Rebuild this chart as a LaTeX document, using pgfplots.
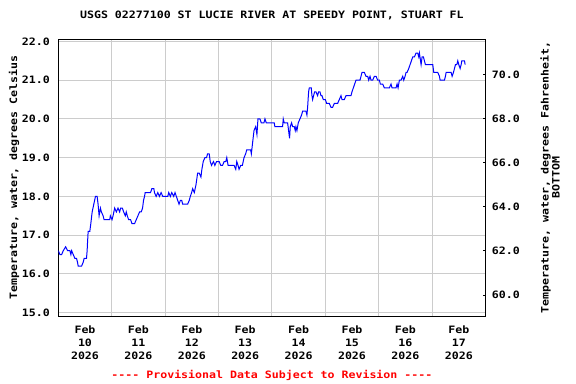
\documentclass[border=0pt]{standalone}
\usepackage{fontspec}
\setmainfont{DejaVu Sans Mono}[FakeStretch=1.14, Ligatures=TeXOff]
\usepackage{pgfplots}
\pgfplotsset{compat=1.18}
\usepackage{pgfplotstable}
\definecolor{gridgray}{RGB}{204,204,204}
\definecolor{usgsblue}{RGB}{0,0,255}
\definecolor{usgsred}{RGB}{255,0,0}
\pgfplotstableread{
day C
0.000 16.6
0.031 16.5
0.062 16.5
0.093 16.6
0.137 16.7
0.174 16.6
0.217 16.6
0.236 16.5
0.250 16.6
0.280 16.5
0.311 16.4
0.342 16.4
0.360 16.3
0.373 16.2
0.435 16.2
0.466 16.3
0.484 16.4
0.528 16.4
0.540 16.6
0.547 16.8
0.559 17.1
0.590 17.1
0.609 17.3
0.634 17.6
0.665 17.8
0.696 18.0
0.727 18.0
0.745 17.8
0.764 17.5
0.789 17.7
0.807 17.6
0.839 17.5
0.857 17.4
0.963 17.4
0.975 17.5
1.006 17.4
1.025 17.5
1.056 17.7
1.087 17.6
1.118 17.7
1.149 17.6
1.168 17.7
1.199 17.7
1.224 17.6
1.255 17.5
1.273 17.6
1.292 17.5
1.317 17.4
1.354 17.4
1.379 17.3
1.429 17.3
1.460 17.4
1.491 17.5
1.522 17.6
1.553 17.6
1.578 17.7
1.596 17.9
1.615 18.0
1.627 18.1
1.727 18.1
1.752 18.2
1.789 18.2
1.801 18.1
1.832 18.0
1.863 18.1
1.894 18.0
1.925 18.1
1.957 18.0
2.050 18.0
2.068 18.1
2.099 18.0
2.124 18.1
2.161 18.0
2.186 18.1
2.211 18.0
2.236 17.9
2.261 17.8
2.286 17.9
2.311 17.9
2.329 17.8
2.422 17.8
2.453 17.9
2.472 18.0
2.497 18.1
2.516 18.2
2.547 18.1
2.578 18.3
2.609 18.6
2.640 18.6
2.671 18.5
2.689 18.7
2.714 18.9
2.745 19.0
2.776 19.0
2.795 19.1
2.826 19.1
2.845 18.9
2.870 18.8
2.907 18.9
2.932 18.8
2.963 18.9
3.012 18.9
3.043 18.8
3.075 18.8
3.106 18.9
3.137 18.9
3.155 19.0
3.180 18.8
3.261 18.8
3.292 18.8
3.323 18.7
3.342 18.9
3.366 18.8
3.385 18.7
3.416 18.8
3.447 18.8
3.478 19.0
3.509 19.1
3.528 19.2
3.602 19.2
3.615 19.1
3.640 19.4
3.665 19.7
3.696 19.8
3.720 19.6
3.739 20.0
3.776 20.0
3.801 19.9
3.851 19.9
3.870 20.0
3.894 19.9
4.006 19.9
4.044 19.9
4.056 19.8
4.200 19.8
4.213 20.0
4.231 19.9
4.294 19.9
4.3125 19.7
4.331 19.5
4.344 19.8
4.369 19.9
4.388 19.8
4.419 19.8
4.4375 19.7
4.450 19.8
4.469 19.7
4.494 19.9
4.525 20.0
4.556 20.1
4.575 20.2
4.606 20.2
4.6375 20.2
4.656 20.1
4.669 20.3
4.6875 20.7
4.700 20.8
4.7375 20.8
4.750 20.6
4.7625 20.5
4.781 20.6
4.800 20.7
4.825 20.7
4.856 20.6
4.875 20.7
4.900 20.7
4.919 20.6
4.9375 20.6
4.9625 20.5
5.000 20.5
5.025 20.4
5.075 20.4
5.106 20.3
5.1375 20.3
5.169 20.4
5.200 20.4
5.231 20.4
5.2625 20.5
5.294 20.6
5.3125 20.5
5.356 20.5
5.3875 20.6
5.481 20.6
5.500 20.7
5.525 20.8
5.550 20.9
5.575 21.0
5.650 21.0
5.669 21.1
5.6875 21.2
5.731 21.2
5.7625 21.1
5.794 21.1
5.8125 21.0
5.8375 21.1
5.856 21.0
5.8875 21.0
5.919 21.1
5.950 21.1
5.981 21.0
6.0125 21.0
6.031 20.9
6.075 20.9
6.106 20.8
6.200 20.8
6.231 20.9
6.250 20.8
6.325 20.8
6.344 20.9
6.3625 20.8
6.3875 21.0
6.419 21.0
6.450 21.1
6.469 21.0
6.494 21.1
6.5125 21.2
6.531 21.2
6.5625 21.3
6.5875 21.4
6.6125 21.5
6.6375 21.6
6.669 21.6
6.700 21.7
6.731 21.7
6.750 21.6
6.7625 21.7
6.794 21.4
6.8125 21.6
6.8375 21.6
6.856 21.5
6.875 21.4
7.0125 21.4
7.031 21.2
7.106 21.2
7.1375 21.1
7.150 21.0
7.231 21.0
7.250 21.1
7.2625 21.2
7.356 21.2
7.375 21.1
7.400 21.2
7.419 21.3
7.4375 21.4
7.4625 21.4
7.481 21.5
7.500 21.4
7.525 21.3
7.544 21.4
7.556 21.5
7.606 21.5
7.619 21.4
}\tempdata
\begin{document}
\fontsize{10.2}{12.9}\selectfont\bfseries
\begin{tikzpicture}
\useasboundingbox (0,0) rectangle (576bp,384bp);
\begin{axis}[
  at={(58.3bp,68bp)}, anchor=south west,
  scale only axis, width=427.2bp, height=277bp,
  xmin=0, xmax=8, ymin=14.915, ymax=22.062,
  axis line style={black, line width=1bp},
  xtick={0.5,1.5,...,7.5},
  xticklabels={{Feb\\10\\2026},{Feb\\11\\2026},{Feb\\12\\2026},{Feb\\13\\2026},{Feb\\14\\2026},{Feb\\15\\2026},{Feb\\16\\2026},{Feb\\17\\2026}},
  minor xtick={1,2,...,7},
  xminorgrids=true, xmajorgrids=false,
  ytick={15,16,...,22}, ymajorgrids=true,
  grid style={gridgray, line width=1bp},
  minor grid style={gridgray, line width=1bp},
  major tick length=0pt, minor tick length=0pt,
  xticklabel style={align=center, anchor=north, inner sep=0pt, yshift=-10bp},
  yticklabel style={anchor=east, inner sep=0pt, xshift=-8.3bp,
    /pgf/number format/.cd, fixed, fixed zerofill, precision=1, assume math mode=true},
  ylabel={Temperature, water, degrees Celsius},
  ylabel style={at={(axis description cs:-0.1037,0.5)}, anchor=center, inner sep=0pt},
  title={USGS 02277100 ST LUCIE RIVER AT SPEEDY POINT, STUART FL},
  title style={at={(axis description cs:0.5,1.0542)}, anchor=base, inner sep=0pt},
  clip mode=individual,
]
\addplot[usgsblue, line width=1bp] table[x=day, y=C] {\tempdata};
\node[anchor=base, text=usgsred, inner sep=0pt] at (axis description cs:0.5,-0.2264) {-{}-{}-{}- Provisional Data Subject to Revision -{}-{}-{}-};
\end{axis}
\begin{axis}[
  at={(58.3bp,68bp)}, anchor=south west,
  scale only axis, width=427.2bp, height=277bp,
  xmin=0, xmax=8, ymin=59.05, ymax=71.6,
  hide x axis,
  axis y line*=right,
  axis line style={black, line width=1bp},
  ytick={60,62,...,70},
  tick align=inside, major tick length=2.5bp,
  tick style={black, line width=1bp},
  yticklabel style={anchor=west, inner sep=0pt, xshift=6.2bp,
    /pgf/number format/.cd, fixed, fixed zerofill, precision=1, assume math mode=true},
  ylabel={Temperature, water, degrees Fahrenheit,\\BOTTOM},
  ylabel style={at={(axis description cs:1.151,0.5)}, anchor=center, rotate=0, align=center, inner sep=0pt, font=\fontsize{10.2}{11}\selectfont\bfseries},
]
\end{axis}
\end{tikzpicture}
\end{document}
